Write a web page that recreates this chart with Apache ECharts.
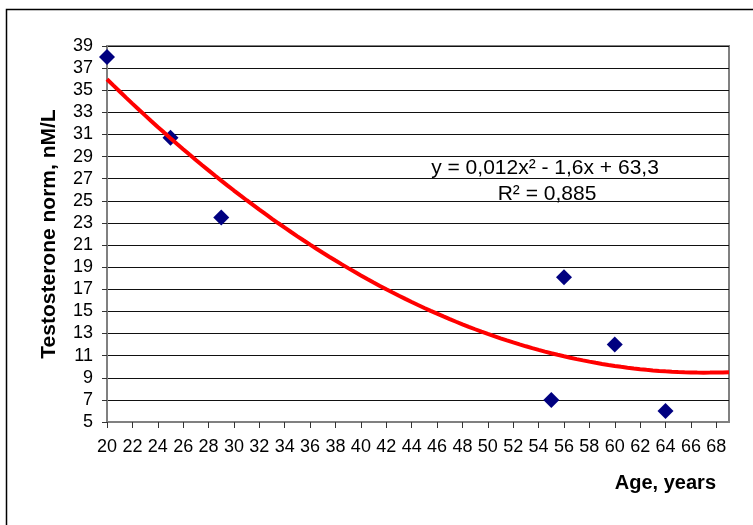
<!DOCTYPE html>
<html>
<head>
<meta charset="utf-8">
<script src="https://cdn.jsdelivr.net/npm/echarts@6/dist/echarts.min.js"></script>
<style>
html,body{margin:0;padding:0;background:#fff;}
#chart{width:753px;height:525px;}
</style>
</head>
<body>
<div id="chart"></div>
<script>
// Data
const ages = [20, 25, 29, 55, 56, 60, 64];
const testosterone = [38, 30.7, 23.5, 7, 18.1, 12, 6];
const xTicks = [20,22,24,26,28,30,32,34,36,38,40,42,44,46,48,50,52,54,56,58,60,62,64,66,68];
const yTicks = [5,7,9,11,13,15,17,19,21,23,25,27,29,31,33,35,37,39];
const xRange = [20, 69];
const yRange = [5, 39];
const equationText = 'y = 0,012x² - 1,6x + 63,3';
const r2Text = 'R² = 0,885';
const xTitle = 'Age, years';
const yTitle = 'Testosterone norm, nM/L';

// Least-squares quadratic trendline (as the source spreadsheet computes it)
function fitQuadratic(xs, ys) {
  let S = [0,0,0,0,0], T = [0,0,0];
  for (let i = 0; i < xs.length; i++) {
    let p = 1;
    for (let k = 0; k < 5; k++) { S[k] += p; if (k < 3) T[k] += p * ys[i]; p *= xs[i]; }
  }
  const M = [[S[0],S[1],S[2],T[0]],[S[1],S[2],S[3],T[1]],[S[2],S[3],S[4],T[2]]];
  for (let c = 0; c < 3; c++) {
    for (let r = c + 1; r < 3; r++) {
      const f = M[r][c] / M[c][c];
      for (let k = c; k < 4; k++) M[r][k] -= f * M[c][k];
    }
  }
  const sol = [0,0,0];
  for (let r = 2; r >= 0; r--) {
    let s = M[r][3];
    for (let k = r + 1; k < 3; k++) s -= M[r][k] * sol[k];
    sol[r] = s / M[r][r];
  }
  return sol; // c0, c1, c2
}
const coef = fitQuadratic(ages, testosterone);
const trend = [];
for (let x = xRange[0]; x <= xRange[1] + 1e-9; x += 0.5) {
  trend.push([x, coef[0] + coef[1] * x + coef[2] * x * x]);
}

const FONT = '"Liberation Sans", Arial, sans-serif';
const chart = echarts.init(document.getElementById('chart'), null, {renderer: 'canvas'});
chart.setOption({
  animation: false,
  backgroundColor: '#fff',
  grid: {left: 107, top: 46, width: 622, height: 376, show: true, borderColor: '#808080', borderWidth: 2, backgroundColor: 'transparent'},
  xAxis: {
    type: 'value', min: xRange[0], max: xRange[1],
    axisLine: {show: true, onZero: false, lineStyle: {color: '#808080', width: 2}},
    axisTick: {show: true, length: 6, lineStyle: {color: '#333', width: 1}, customValues: xTicks},
    axisLabel: {color: '#000', fontSize: 18, fontFamily: FONT, margin: 16, customValues: xTicks},
    splitLine: {show: false}
  },
  yAxis: {
    type: 'value', min: yRange[0], max: yRange[1],
    axisLine: {show: true, onZero: false, lineStyle: {color: '#808080', width: 2}},
    axisTick: {show: true, length: 5, lineStyle: {color: '#333', width: 1}, customValues: yTicks},
    axisLabel: {color: '#000', fontSize: 18, fontFamily: FONT, margin: 14, customValues: yTicks},
    splitLine: {show: true, lineStyle: {color: '#111', width: 1}},
    name: yTitle, nameLocation: 'middle', nameGap: 47,
    nameTextStyle: {color: '#000', fontSize: 21, fontWeight: 'bold', fontFamily: FONT}
  },
  series: [
    {
      type: 'scatter', data: ages.map((a, i) => [a, testosterone[i]]),
      symbol: 'diamond', symbolSize: [16, 16],
      itemStyle: {color: '#000080', opacity: 1}, z: 2
    },
    {
      type: 'line', data: trend, showSymbol: false, smooth: false,
      lineStyle: {color: '#ff0000', width: 4}, z: 3, clip: true
    }
  ],
  graphic: [
    {type: 'rect', shape: {x: 6.5, y: 9.5, width: 900, height: 700}, style: {fill: 'none', stroke: '#000', lineWidth: 1.5}, silent: true, z: 100},
    {type: 'text', x: 545, y: 168, style: {text: equationText, fill: '#000', font: '21px ' + FONT, textAlign: 'center', textVerticalAlign: 'middle'}, z: 100},
    {type: 'text', x: 547, y: 194, style: {text: r2Text, fill: '#000', font: '21px ' + FONT, textAlign: 'center', textVerticalAlign: 'middle'}, z: 100},
    {type: 'text', x: 716, y: 483, style: {text: xTitle, fill: '#000', font: 'bold 20px ' + FONT, textAlign: 'right', textVerticalAlign: 'middle'}, z: 100}
  ]
});
</script>
</body>
</html>
